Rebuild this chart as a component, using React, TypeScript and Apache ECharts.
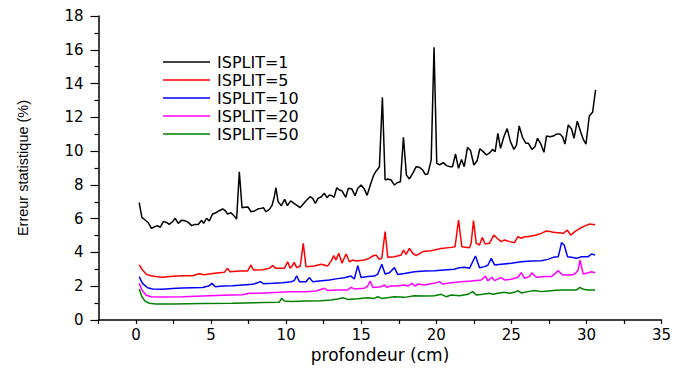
import React, { useEffect, useRef } from "react";
import * as echarts from "echarts";

const seriesNames = ["ISPLIT=1", "ISPLIT=5", "ISPLIT=10", "ISPLIT=20", "ISPLIT=50"];
const seriesColors = ["#000000", "#ff0000", "#0000ff", "#ff00ff", "#008000"];

const depth1 = [0.21,0.39,0.61,0.81,1.03,1.26,1.43,1.61,1.83,2.06,2.21,2.43,2.61,2.81,3.03,3.26,3.48,3.7,3.92,4.14,4.37,4.5,4.7,4.88,5.1,5.32,5.54,5.77,5.9,6.1,6.32,6.54,6.7,6.88,7.06,7.23,7.46,7.66,7.88,8.1,8.32,8.48,8.66,8.88,9.06,9.21,9.32,9.46,9.68,9.9,10.08,10.3,10.52,10.74,10.92,11.14,11.37,11.59,11.77,11.94,12.12,12.34,12.54,12.72,12.88,13.06,13.19,13.37,13.54,13.72,13.97,14.14,14.37,14.59,14.77,14.99,15.21,15.39,15.59,15.83,16.01,16.21,16.41,16.59,16.77,16.99,17.21,17.39,17.61,17.81,18.01,18.21,18.43,18.66,18.88,19.1,19.26,19.43,19.66,19.85,20.03,20.23,20.46,20.68,20.9,21.08,21.28,21.48,21.68,21.86,22.08,22.28,22.5,22.72,22.9,23.12,23.34,23.57,23.74,23.92,24.1,24.28,24.5,24.72,24.94,25.17,25.34,25.52,25.74,25.97,26.14,26.37,26.57,26.74,26.94,27.17,27.34,27.57,27.79,28.01,28.23,28.41,28.57,28.79,29.01,29.17,29.39,29.61,29.79,29.97,30.19,30.41,30.61];
const err1 = [6.95,6.08,5.92,5.76,5.43,5.53,5.59,5.49,5.84,5.76,5.66,5.82,6.02,5.72,5.9,5.88,5.78,5.59,5.66,5.66,5.9,5.72,6.02,5.86,6.28,6.35,6.47,6.57,6.51,6.28,6.35,6.16,5.98,8.78,6.65,6.67,6.69,6.41,6.45,6.57,6.61,6.65,6.41,6.55,6.79,7.3,7.83,7.01,6.77,7.14,6.77,7.05,6.91,6.77,6.65,6.87,7.1,7.3,7.2,6.91,7.2,7.3,7.5,7.24,7.4,7.36,7.26,7.83,7.7,7.65,7.26,7.8,7.76,7.36,7.8,7.99,7.76,7.38,7.95,8.58,8.84,9.06,13.18,8.29,8.35,8.29,7.99,8.13,8.19,10.82,8.58,8.35,8.68,9.08,9.04,8.88,8.62,8.64,9.47,16.15,9.28,9.18,9.32,9.14,9.08,9.08,9.83,8.98,9.51,9.08,10.22,10.03,9.18,9.43,10.14,9.97,9.77,9.91,10.1,9.97,11.05,10.16,10.85,11.33,10.56,10.1,10.36,11.49,10.82,10.46,10.46,10.1,10.26,10.76,10.46,9.93,10.89,10.85,10.89,11.01,11.01,10.85,10.42,11.55,11.31,10.76,11.78,11.15,10.7,10.42,12.08,12.3,13.62];

const depth5 = [0.21,0.43,0.7,0.99,1.32,1.77,2.43,3.1,3.77,4.21,4.54,5.1,5.54,5.88,6.1,6.26,6.88,7.43,7.66,7.81,8.43,8.88,9.1,9.32,9.88,10.1,10.26,10.39,10.54,10.7,10.94,11.14,11.32,11.88,12.32,12.77,12.99,13.17,13.32,13.5,13.72,13.99,14.21,14.43,14.66,15.21,15.54,15.77,15.99,16.21,16.37,16.59,16.77,17.21,17.66,17.81,17.99,18.21,18.43,18.66,19.1,19.66,19.88,20.32,20.99,21.25,21.48,21.7,22.21,22.32,22.48,22.66,22.88,23.06,23.26,23.54,23.83,24.05,24.32,24.54,24.88,25.21,25.43,25.66,25.88,26.1,26.32,26.66,26.99,27.32,27.66,27.79,28.12,28.46,28.72,28.95,29.23,29.57,29.9,30.19,30.57];
const err5 = [3.26,2.96,2.7,2.62,2.57,2.53,2.59,2.62,2.62,2.74,2.68,2.76,2.8,2.82,3.06,2.86,2.9,2.9,3.26,2.96,2.98,3.06,3.22,3.06,3.06,3.45,3.06,3.18,3.41,3.1,3.2,4.54,3.16,3.2,3.3,3.2,3.49,3.81,3.55,3.95,3.36,3.91,3.45,3.55,3.49,3.55,3.65,3.79,3.85,3.59,3.65,5.23,3.71,3.75,3.85,4.14,3.89,4.24,3.95,3.81,4.05,4.1,4.14,4.24,4.3,4.34,5.92,4.34,4.28,4.54,5.88,4.54,4.44,4.89,4.5,4.54,5.03,4.84,4.64,4.74,4.64,4.58,4.93,4.84,4.93,4.93,4.97,5.03,5.13,5.27,5.23,5.19,5.17,5.13,5.33,5.03,5.23,5.43,5.57,5.68,5.64];

const depth10 = [0.21,0.43,0.77,1.1,1.77,2.43,3.1,3.77,4.43,4.83,5.06,5.28,5.77,6.43,7.1,7.77,8.1,8.28,8.48,9.1,9.77,10.32,10.54,10.7,10.88,11.32,11.55,11.77,12.21,12.88,13.43,13.88,14.32,14.54,14.77,14.99,15.43,15.88,16.1,16.37,16.59,16.88,17.21,17.43,17.88,18.54,19.21,19.88,20.54,21.21,21.54,21.88,22.21,22.61,22.88,23.21,23.43,23.66,23.88,24.32,24.99,25.66,26.32,26.99,27.43,27.79,28.12,28.23,28.34,28.52,28.74,29.0,29.34,29.68,30.12,30.34,30.57];
const err10 = [2.57,2.17,1.91,1.84,1.82,1.86,1.89,1.91,1.93,2.01,2.17,1.97,2.01,2.03,2.07,2.11,2.21,2.27,2.15,2.17,2.21,2.27,2.33,2.62,2.27,2.27,2.51,2.27,2.31,2.37,2.45,2.5,2.6,2.43,3.22,2.51,2.57,2.6,2.72,3.3,2.72,2.8,3.1,2.7,2.76,2.86,2.9,2.92,2.96,3.0,3.1,3.12,3.06,3.79,3.1,3.16,3.24,3.65,3.26,3.3,3.36,3.45,3.49,3.51,3.59,3.71,3.75,4.14,4.58,4.44,3.75,3.71,3.65,3.75,3.75,3.91,3.85];

const depth20 = [0.21,0.39,0.66,0.99,1.77,3.1,4.43,5.77,7.1,7.54,8.21,8.88,9.54,10.21,11.32,11.99,12.54,12.77,13.32,13.77,14.1,14.32,14.54,15.21,15.43,15.59,15.77,16.32,16.54,16.72,16.94,17.32,17.88,18.1,18.37,18.59,18.77,19.21,19.54,19.88,20.21,20.43,20.99,21.66,22.32,22.99,23.28,23.43,23.7,23.88,24.32,24.54,24.99,25.43,25.66,25.88,26.21,26.37,26.66,27.21,27.66,27.79,28.12,28.41,28.95,29.23,29.45,29.57,29.79,30.12,30.34,30.57];
const err20 = [2.17,1.78,1.48,1.38,1.36,1.38,1.42,1.46,1.5,1.58,1.58,1.62,1.64,1.68,1.68,1.72,1.88,1.74,1.78,1.78,1.78,1.93,1.84,1.88,2.01,2.31,1.93,1.97,2.07,1.93,2.01,2.01,2.07,2.01,2.17,2.01,2.13,2.07,2.13,2.17,2.27,2.13,2.21,2.27,2.31,2.37,2.6,2.31,2.53,2.33,2.51,2.37,2.41,2.53,2.8,2.47,2.57,2.8,2.53,2.57,2.57,2.66,2.92,2.66,2.66,2.72,2.96,3.55,2.72,2.8,2.86,2.8];

const depth50 = [0.21,0.39,0.6,0.88,1.32,2.43,4.43,6.43,8.43,9.54,9.7,9.88,10.32,11.32,12.32,12.99,13.43,13.77,14.1,14.77,15.43,15.88,16.1,16.37,17.21,17.88,18.54,19.21,19.88,20.32,20.66,20.99,21.54,22.1,22.43,22.66,23.1,23.54,23.77,24.1,24.54,24.88,25.21,25.43,25.66,26.1,26.54,26.99,27.43,27.79,28.34,28.95,29.34,29.57,29.79,30.12,30.57];
const err50 = [1.84,1.38,1.12,0.99,0.95,0.95,0.97,0.99,1.03,1.05,1.28,1.12,1.09,1.12,1.14,1.18,1.24,1.32,1.22,1.26,1.32,1.28,1.38,1.28,1.38,1.34,1.44,1.42,1.44,1.52,1.38,1.48,1.44,1.52,1.68,1.48,1.52,1.58,1.52,1.58,1.64,1.58,1.64,1.74,1.6,1.68,1.74,1.68,1.72,1.74,1.78,1.78,1.78,1.93,1.82,1.78,1.78];

const xTicks = [0, 5, 10, 15, 20, 25, 30, 35];

const seriesDepths = [depth1, depth5, depth10, depth20, depth50];
const seriesErrors = [err1, err5, err10, err20, err50];

export default function App() {
  const ref = useRef<HTMLDivElement>(null);
  useEffect(() => {
    if (!ref.current) return;
    const chart = echarts.init(ref.current, null, { renderer: "svg" });
    const axisLineStyle = { color: "#000", width: 1.5 };
    const labelStyle = { color: "#000", fontSize: 15, fontFamily: "DejaVu Sans" };
    const option: any = {
      animation: false,
      backgroundColor: "#ffffff",
      grid: { left: 98.5, right: 18.5, top: 16, bottom: 51, containLabel: false, outerBoundsMode: "none" },
      legend: {
        orient: "vertical",
        left: 158,
        top: 49,
        icon: "rect",
        itemWidth: 47,
        itemHeight: 1.6,
        itemGap: 2,
        data: seriesNames,
        textStyle: { color: "#000", fontSize: 16, fontFamily: "DejaVu Sans", lineHeight: 15, padding: [0, 0, 0, 2] },
      },
      xAxis: {
        type: "value",
        min: -2.5,
        max: 35,
        interval: 2.5,
        name: "profondeur (cm)",
        nameLocation: "middle",
        nameGap: 25,
        nameTextStyle: { color: "#000", fontSize: 17, fontFamily: "DejaVu Sans" },
        axisLine: { show: true, onZero: false, lineStyle: axisLineStyle },
        axisTick: { show: true, inside: false, length: 4, lineStyle: { color: "#000", width: 1.2 } },
        axisLabel: {
          ...labelStyle,
          margin: 7,
          formatter: (v: number) => (xTicks.indexOf(v) >= 0 ? String(v) : ""),
        },
        splitLine: { show: false },
      },
      yAxis: {
        type: "value",
        min: 0,
        max: 18,
        interval: 2,
        name: "Erreur statistique (%)",
        nameLocation: "middle",
        nameRotate: 90,
        nameGap: 68,
        nameTextStyle: { color: "#000", fontSize: 14.5, fontFamily: "Liberation Sans" },
        axisLine: { show: true, onZero: false, lineStyle: axisLineStyle },
        axisTick: { show: true, inside: false, length: 8, lineStyle: { color: "#000", width: 1.2 } },
        minorTick: { show: true, splitNumber: 2, length: 4, lineStyle: { color: "#000", width: 1.2 } },
        minorSplitLine: { show: false },
        axisLabel: { ...labelStyle, margin: 15 },
        splitLine: { show: false },
      },
      series: seriesNames.map((name, i) => ({
        name,
        type: "line",
        symbol: "none",
        showSymbol: false,
        color: seriesColors[i],
        lineStyle: { color: seriesColors[i], width: 1.5 },
        data: seriesDepths[i].map((d, j) => [d, seriesErrors[i][j]]),
      })),
    };
    chart.setOption(option);
    return () => chart.dispose();
  }, []);
  return (
    <div
      ref={ref}
      style={{ position: "absolute", left: 0, top: 0, width: 680, height: 371, background: "#fff" }}
    />
  );
}
